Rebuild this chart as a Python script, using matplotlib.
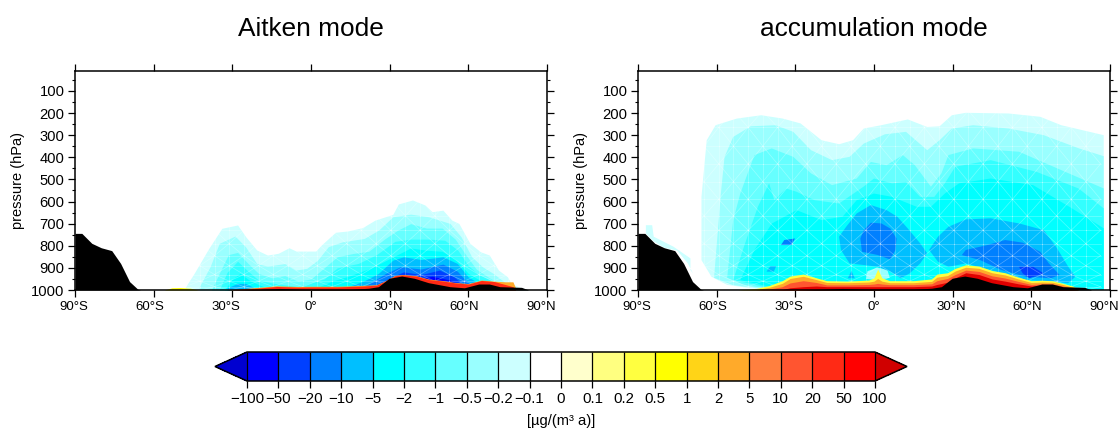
import matplotlib
matplotlib.use("Agg")
import matplotlib.pyplot as plt
import numpy as np
from matplotlib.colors import BoundaryNorm, ListedColormap
from matplotlib.colorbar import ColorbarBase
from matplotlib.patches import PathPatch
from matplotlib.transforms import ScaledTranslation

plt.rcParams['font.family'] = ['Liberation Sans', 'DejaVu Sans']

levels = [-100, -50, -20, -10, -5, -2, -1, -0.5, -0.2, -0.1, 0, 0.1, 0.2, 0.5, 1, 2, 5, 10, 20, 50, 100]
level_labels = ['\u2212100', '\u221250', '\u221220', '\u221210', '\u22125', '\u22122', '\u22121', '\u22120.5',
                '\u22120.2', '\u22120.1', '0', '0.1', '0.2', '0.5', '1', '2', '5', '10', '20', '50', '100']
colors = ['#0000ff', '#0040ff', '#0080ff', '#00bfff', '#00ffff', '#33ffff', '#66ffff', '#99ffff', '#ccffff',
          '#ffffff', '#ffffcc', '#ffff80', '#ffff40', '#ffff00', '#ffd417', '#ffaa2a', '#ff7f3f', '#ff5530',
          '#ff2a15', '#ff0000']

# orography, both panels
terrain_lat = [-90, -87.4, -83.6, -80, -76, -72.6, -69.2, -66, -65, -30, -20, -12, -5, 0, 15, 22, 25.7, 29.8, 34.6,
               39.4, 44.8, 53, 58.5, 64, 68, 72, 80.3, 83, 90]
terrain_p = [744, 744, 789, 809, 822, 880, 962, 997, 1000, 1000, 997, 993, 996, 997, 997, 992, 985, 947, 937,
             947, 967, 985, 990, 973, 973, 985, 988, 1000, 1000]

# Aitken mode, top of each band
a1_lat = [-48, -44.6, -39, -34, -28, -24.9, -20.7, -16.6, -12.5, -8.4, -5.7, 1.8, 3.9, 9.3, 14.1, 19.6, 24.4, 31.2,
          33.3, 38.7, 43.5, 46.2, 50.3, 53.7, 56.4, 60.6, 64.6, 68, 71.5, 74.9, 76.3, 79, 83]
a1_p = [988, 925, 812, 721, 706, 759, 819, 842, 834, 809, 824, 824, 797, 739, 733, 718, 684, 658,
        611, 593, 616, 646, 639, 684, 699, 789, 827, 842, 910, 940, 970, 985, 1000]
a2_lat = [-42.6, -38.5, -35, -29, -25, -20.7, -16.6, -9.8, -5.7, -1.6, 2.5, 6.6, 12, 20.3, 25.8, 31.2, 38, 44.9,
          53, 57.2, 61.3, 65.4, 69.5, 73.6, 77.7]
a2_p = [985, 895, 789, 756, 804, 880, 892, 880, 910, 902, 865, 804, 782, 767, 729, 669, 657, 669,
        699, 759, 850, 895, 925, 962, 992]
a3_lat = [-38, -35, -31.5, -28, -24, -20, -15, -10, -5, 0, 5, 10, 16, 22, 28, 33, 38, 44, 50, 55, 59, 63, 68, 72, 76]
a3_p = [1000, 925, 840, 830, 880, 925, 945, 935, 960, 950, 900, 850, 835, 825, 770, 730, 700, 720, 720, 770, 840,
        905, 945, 970, 985]
a4_lat = [-35, -32, -28, -24, -20, -14, -5, 5, 10, 18, 25, 32, 38, 45, 51, 56, 60, 64, 70, 74]
a4_p = [1000, 920, 870, 915, 955, 970, 985, 950, 900, 880, 840, 780, 770, 770, 775, 820, 890, 930, 965, 985]
a5_lat = [-33, -30, -27, -23, -18, -5, 3, 8, 15, 23, 28, 33, 38, 44, 50, 55, 60, 65, 70]
a5_p = [1000, 950, 925, 960, 985, 995, 985, 960, 935, 900, 870, 840, 810, 820, 825, 860, 925, 960, 985]
a6_lat = [14, 20, 25.7, 31.2, 35.3, 42, 50.3, 55.8, 59.9, 64]
a6_p = [985, 960, 925, 865, 850, 862, 850, 880, 940, 970]
a6b_lat = [-32, -28, -25, -22]
a6b_p = [990, 970, 970, 988]
a7_lat = [20, 23, 28.5, 34, 42, 50.3, 55.8, 58.5, 61]
a7_p = [985, 965, 925, 895, 905, 883, 915, 950, 975]
a8_lat = [25, 30, 35.3, 42, 49, 54.5, 57, 59]
a8_p = [975, 945, 918, 930, 910, 940, 965, 985]
a9_lat = [32, 40.8, 46.2, 53, 56.5, 58]
a9_p = [960, 950, 938, 955, 975, 985]
a_yellow_lat = [-56, -53, -50, -46, -43]
a_yellow_p = [1000, 990, 989, 992, 1000]
a_warm_lat = [-32, -20, -13, -5, 0, 10, 20, 25, 28, 32, 35, 40, 45, 50, 55, 60, 65, 70, 74, 77, 78]
a_orange_p = [1000, 988, 981, 984, 983, 983, 979, 976, 960, 934, 930, 935, 951, 957, 966, 971, 955, 960, 963, 963, 990]
a_red_p = [1000, 991, 984, 987, 986, 986, 982, 978, 962, 936, 932, 937, 953, 959, 968, 973, 957, 962, 975, 985, 995]

# accumulation mode, closed bands
b1_lat = [-62, -65.8, -65.8, -63.8, -60.4, -52.3, -43, -34.8, -28, -20, -13.3, -8, -3.9, 2.8, 12.9, 20.3, 25, 29.7,
          35, 51.3, 63.4, 71.4, 82.2, 87.6, 87.6, -47, -56]
b1_p = [940, 865, 579, 323, 255, 225, 210, 225, 247, 323, 341, 323, 270, 255, 229, 263, 260, 210,
        199, 202, 217, 255, 285, 300, 1000, 992, 977]
b1b_lat = [-87, -84.6, -84, -76.5, -70, -70, -69, -71, -75, -80, -84, -87]
b1b_p = [707, 707, 759, 804, 857, 910, 925, 880, 822, 809, 780, 744]
b2_lat = [-61, -58.4, -57, -53.7, -47, -37.5, -30.8, -24, -16, -9.3, -3.9, 4.2, 12.2, 20.3, 25, 29.7, 37.8, 51.3,
          64.7, 78.2, 87.6, 87.6, -45, -54]
b2_p = [945, 564, 398, 308, 260, 255, 285, 368, 413, 398, 338, 296, 285, 368, 323, 270, 255, 270,
        300, 360, 395, 1000, 992, 977]
b3_lat = [-56, -53.7, -51, -45.6, -39, -30.8, -24, -16, -6.6, -1.2, 4.8, 11, 15.6, 21.7, 25.7, 28.4, 37.8, 55.3,
          71.4, 87.6, 87.6, -42, -50]
b3_p = [945, 684, 564, 390, 360, 398, 473, 526, 496, 421, 436, 390, 436, 533, 473, 390, 360, 375,
        458, 541, 1000, 992, 975]
b4_lat = [-53.7, -49.6, -44.3, -40, -38, -33.5, -29.5, -22.7, -13.3, -4, 0, 6.9, 12.2, 17.6, 23, 27, 31, 44.5, 62,
          78, 87.6, 87.6, -40, -46]
b4_p = [955, 804, 624, 518, 594, 541, 556, 594, 609, 533, 496, 518, 511, 579, 579, 518, 443, 413, 466,
        541, 631, 1000, 990, 975]
b5_lat = [-51, -45.6, -38.9, -29.5, -20, -12, -6.6, 0, 6.9, 16.3, 21.7, 27, 32.4, 44.5, 60.7, 75.5, 87.6, 87.6, -38]
b5_p = [955, 819, 699, 639, 684, 669, 594, 564, 579, 624, 624, 564, 518, 496, 526, 631, 721, 1000, 990]
b6a_lat = [-1.2, 4.8, 8.9, 12.9, 17.6, 20.3, 17.6, 13.6, 10.2, 6.2, 1.5, -3.9, -9.3, -12.6, -13.3, -10.6, -6.6]
b6a_p = [616, 639, 669, 722, 789, 834, 880, 925, 947, 917, 895, 887, 880, 819, 759, 714, 654]
b6b_lat = [21, 24.4, 28.4, 35, 44.5, 55.3, 64.7, 69.4, 74.1, 76.8, 74, 68.8, 58, 44.5, 35, 28.4, 24.4]
b6b_p = [819, 759, 714, 681, 676, 699, 729, 804, 895, 940, 970, 962, 955, 910, 880, 895, 872]
b6c_lat = [-41, -39.5, -37.3, -38.2]
b6c_p = [917, 892, 892, 917]
b6d_lat = [-10, -8.6, -7.3]
b6d_p = [947, 913, 947]
b7a_lat = [-1.2, 2.8, 6.2, 8.6, 8.2, 6.2, 1.5, -4.6, -5.2, -3.9]
b7a_p = [696, 699, 722, 767, 819, 862, 842, 827, 767, 729]
b7b_lat = [33.5, 35, 43.2, 50, 56.7, 63.4, 66.7, 70.8, 67.4, 58, 48.6, 40.5]
b7b_p = [842, 819, 797, 774, 786, 827, 880, 932, 947, 940, 910, 865]
b7c_lat = [-35.5, -34.2, -30.1, -31.5]
b7c_p = [797, 774, 767, 797]
b8_lat = [55.3, 60.7, 64.7, 59.3, 56.7]
b8_p = [895, 895, 925, 947, 925]
b_hole_lat = [-3, -2.5, 1, 5, 6, 1.4]
b_hole_p = [950, 915, 900, 905, 945, 955]
b_warm_lat = [-52, -45, -40, -35, -32, -27, -22, -18, -10, -2, 0, 1.4, 3, 6, 15, 22, 24, 28, 31, 35, 40, 45, 50, 55,
              60, 64, 68, 72, 76, 78]
b_warm_top = [1000, 993, 980, 958, 937, 928, 945, 958, 960, 955, 945, 905, 945, 958, 958, 950, 928, 922, 902, 886,
              892, 912, 922, 942, 958, 956, 958, 970, 983, 1000]
b_warm_orange = [1000, 998, 988, 970, 948, 938, 953, 966, 967, 964, 960, 948, 960, 967, 967, 961, 942, 935, 914, 897,
                 902, 922, 932, 950, 966, 964, 965, 975, 988, 1000]
b_warm_red = [1000, 1000, 996, 985, 968, 958, 966, 977, 977, 975, 973, 970, 973, 976, 976, 972, 958, 948, 930, 910,
              916, 936, 946, 961, 975, 972, 972, 982, 994, 1000]
b_warm_dark = [1000, 1000, 1000, 998, 990, 985, 982, 985, 985, 985, 985, 985, 985, 985, 985, 982, 975, 965, 945, 922,
               930, 950, 960, 972, 982, 978, 978, 988, 998, 1000]

mesh_lat = [-87.2, -81.6, -76, -70.4, -64.8, -59.2, -53.6, -48, -42.4, -36.8, -31.2, -25.6, -20, -14.4, -8.8, -3.2,
            2.4, 8, 13.6, 19.2, 24.8, 30.4, 36, 41.6, 47.2, 52.8, 58.4, 64, 69.6, 75.2, 80.8, 86.4]
mesh_p = [190, 265, 350, 430, 510, 590, 665, 730, 790, 845, 890, 930, 960, 985, 1000]

lat_ticks = [-90, -60, -30, 0, 30, 60, 90]
lat_labels = ['90°S', '60°S', '30°S', '0°', '30°N', '60°N', '90°N']
label_shift = [-1, -3.7, -6, -0.5, -1, -3.7, -6]  # the labels sit left of their ticks, in pixels
p_ticks = [100, 200, 300, 400, 500, 600, 700, 800, 900, 1000]


def add_mesh(ax, clip):
    # faint triangle edges from the contouring
    for i in range(len(mesh_lat) - 1):
        for j in range(len(mesh_p) - 1):
            x0, x1 = mesh_lat[i], mesh_lat[i + 1]
            y0, y1 = mesh_p[j], mesh_p[j + 1]
            segs = [([x0, x0], [y0, y1]), ([x0, x1], [y0, y0])]
            if (i + j) % 2 == 0:
                segs.append(([x0, x1], [y0, y1]))
            else:
                segs.append(([x0, x1], [y1, y0]))
            for xs, ys in segs:
                line, = ax.plot(xs, ys, color='white', lw=0.5, alpha=0.32, zorder=3)
                line.set_clip_path(clip)


def setup_axes(ax, title):
    ax.set_xlim(-90, 90)
    ax.set_ylim(1000, 10)
    ax.set_xticks(lat_ticks)
    ax.set_xticklabels(lat_labels)
    ax.set_yticks(p_ticks)
    ax.set_yticks(range(50, 1000, 50), minor=True)
    ax.tick_params(axis='x', which='major', top=True, direction='out', length=5, width=0.9, labelsize=9.5, pad=3)
    ax.tick_params(axis='y', which='major', right=True, direction='out', length=5, width=0.9, labelsize=10.6, pad=2.5)
    ax.tick_params(axis='y', which='minor', right=True, direction='out', length=2.5, width=0.8)
    ax.set_ylabel('pressure (hPa)', fontsize=10.5)
    ax.yaxis.set_label_coords(-50 / 472, 0.5)
    ax.set_title(title, fontsize=18.9, pad=25)
    for s in ax.spines.values():
        s.set_linewidth(1.1)
        s.set_zorder(10)
    for lab, dx in zip(ax.get_xticklabels(), label_shift):
        lab.set_transform(lab.get_transform() + ScaledTranslation(dx / 100, 0, ax.figure.dpi_scale_trans))


fig = plt.figure(figsize=(11.2, 4.29), dpi=100)
ax1 = fig.add_axes([75 / 1120, 139 / 429, 472 / 1120, 219 / 429])
ax2 = fig.add_axes([638 / 1120, 139 / 429, 472 / 1120, 219 / 429])

# left panel
outer = ax1.fill_between(a1_lat, a1_p, 1000, color=colors[8], lw=0, zorder=2)
ax1.fill_between(a2_lat, a2_p, 1000, color=colors[7], lw=0, zorder=2)
ax1.fill_between(a3_lat, a3_p, 1000, color=colors[6], lw=0, zorder=2)
ax1.fill_between(a4_lat, a4_p, 1000, color=colors[5], lw=0, zorder=2)
ax1.fill_between(a5_lat, a5_p, 1000, color=colors[4], lw=0, zorder=2)
ax1.fill_between(a6_lat, a6_p, 1000, color=colors[3], lw=0, zorder=2)
ax1.fill_between(a6b_lat, a6b_p, 1000, color=colors[3], lw=0, zorder=2)
ax1.fill_between(a7_lat, a7_p, 1000, color=colors[2], lw=0, zorder=2)
ax1.fill_between(a8_lat, a8_p, 1000, color=colors[1], lw=0, zorder=2)
ax1.fill_between(a9_lat, a9_p, 1000, color=colors[0], lw=0, zorder=2)
add_mesh(ax1, PathPatch(outer.get_paths()[0], transform=ax1.transData))
ax1.fill_between(a_yellow_lat, a_yellow_p, 1000, color=colors[13], lw=0, zorder=4)
ax1.fill_between(a_warm_lat, a_orange_p, 1000, color=colors[15], lw=0, zorder=4)
ax1.fill_between(a_warm_lat, a_red_p, 1000, color=colors[18], lw=0, zorder=4)
ax1.fill_between(terrain_lat, terrain_p, 1000, color='black', lw=0, zorder=5)
setup_axes(ax1, 'Aitken mode')

# right panel
patch1 = ax2.fill(b1_lat, b1_p, color=colors[8], lw=0, zorder=2)[0]
ax2.fill(b1b_lat, b1b_p, color=colors[8], lw=0, zorder=2)
ax2.fill(b2_lat, b2_p, color=colors[7], lw=0, zorder=2)
ax2.fill(b3_lat, b3_p, color=colors[6], lw=0, zorder=2)
ax2.fill(b4_lat, b4_p, color=colors[5], lw=0, zorder=2)
ax2.fill(b5_lat, b5_p, color=colors[4], lw=0, zorder=2)
ax2.fill(b_hole_lat, b_hole_p, color=colors[7], lw=0, zorder=2)
for la, pr in [(b6a_lat, b6a_p), (b6b_lat, b6b_p), (b6c_lat, b6c_p), (b6d_lat, b6d_p)]:
    ax2.fill(la, pr, color=colors[3], lw=0, zorder=2)
for la, pr in [(b7a_lat, b7a_p), (b7b_lat, b7b_p), (b7c_lat, b7c_p)]:
    ax2.fill(la, pr, color=colors[2], lw=0, zorder=2)
ax2.fill(b8_lat, b8_p, color=colors[1], lw=0, zorder=2)
add_mesh(ax2, patch1)
ax2.fill_between(b_warm_lat, b_warm_top, 1000, color=colors[12], lw=0, zorder=4)
ax2.fill_between(b_warm_lat, b_warm_orange, 1000, color=colors[15], lw=0, zorder=4)
ax2.fill_between(b_warm_lat, b_warm_red, 1000, color=colors[17], lw=0, zorder=4)
ax2.fill_between(b_warm_lat, b_warm_dark, 1000, color='#e00000', lw=0, zorder=4)
ax2.fill_between(terrain_lat, terrain_p, 1000, color='black', lw=0, zorder=5)
setup_axes(ax2, 'accumulation mode')

# colour bar
cax = fig.add_axes([215 / 1120, (429 - 381) / 429, 692 / 1120, 29 / 429])
cmap = ListedColormap(colors)
cmap.set_under('#0000d0')
cmap.set_over('#d00000')
norm = BoundaryNorm(levels, cmap.N)
cb = ColorbarBase(cax, cmap=cmap, norm=norm, orientation='horizontal', extend='both',
                  extendfrac=32 / 628, spacing='uniform', ticks=levels, drawedges=True)
cb.ax.set_xticklabels(level_labels)
cb.ax.tick_params(length=5, width=0.9, labelsize=10.8, pad=3)
cb.outline.set_linewidth(1.1)
cb.dividers.set_linewidth(0.9)
cb.set_label('[µg/(m³ a)]', fontsize=10.6, labelpad=6)

fig.savefig('out.png', dpi=100)
